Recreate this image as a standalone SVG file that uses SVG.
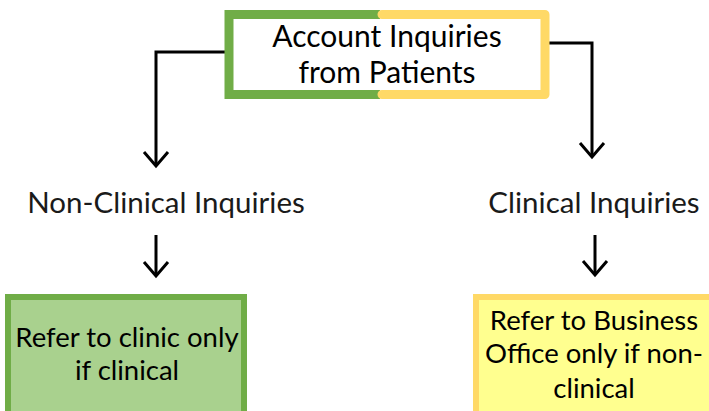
<svg xmlns="http://www.w3.org/2000/svg" width="709" height="411" viewBox="0 0 709 411">
  <style>
    text { font-family: Lato, "Liberation Sans", sans-serif; fill: #000; text-anchor: middle; }
    .title { font-size: 30px; }
    .cat { font-size: 29.5px; fill: #1a1a1a; }
    .box { font-size: 27.5px; }
    .wire { fill: none; stroke: #000; stroke-width: 3; }
  </style>
  <defs>
    <!-- open V arrowhead, drawn pointing along +x -->
    <marker id="arrow" viewBox="0 0 20 30" refX="17" refY="15" markerWidth="20" markerHeight="30" markerUnits="userSpaceOnUse" orient="auto">
      <path d="M3,3 L17,15 L3,27" fill="none" stroke="#000" stroke-width="3"/>
    </marker>
  </defs>

  <g id="connectors">
    <path class="wire" d="M225,52 H156 V166" marker-end="url(#arrow)"/>
    <path class="wire" d="M549,43 H592 V157" marker-end="url(#arrow)"/>
    <path class="wire" d="M156,235 V276" marker-end="url(#arrow)"/>
    <path class="wire" d="M595,235 V275" marker-end="url(#arrow)"/>
  </g>

  <g id="account-inquiries">
    <rect x="229" y="14.5" width="316" height="80" fill="#fff"/>
    <path d="M380,14.5 H229 V94.5 H380" fill="none" stroke="#70ad47" stroke-width="9"/>
    <path d="M382,14.5 H545 V94.5 H382" fill="none" stroke="#ffd966" stroke-width="9" stroke-linecap="round" stroke-linejoin="round"/>
    <text class="title" x="387" y="47">Account Inquiries</text>
    <text class="title" x="387" y="83">from Patients</text>
  </g>

  <g id="non-clinical">
    <text class="cat" x="166" y="213">Non-Clinical Inquiries</text>
  </g>

  <g id="clinical">
    <text class="cat" x="594" y="213">Clinical Inquiries</text>
  </g>

  <g id="refer-clinic">
    <rect x="8" y="297" width="236" height="120" fill="#a9d18e" stroke="#70ad47" stroke-width="6"/>
    <text class="box" x="127" y="347">Refer to clinic only</text>
    <text class="box" x="127" y="380">if clinical</text>
  </g>

  <g id="refer-business">
    <rect x="476" y="297" width="240" height="120" fill="#ffff8f" stroke="#ffd966" stroke-width="6"/>
    <text class="box" x="594" y="330">Refer to Business</text>
    <text class="box" x="594" y="363">Office only if non-</text>
    <text class="box" x="594" y="398">clinical</text>
  </g>
</svg>
